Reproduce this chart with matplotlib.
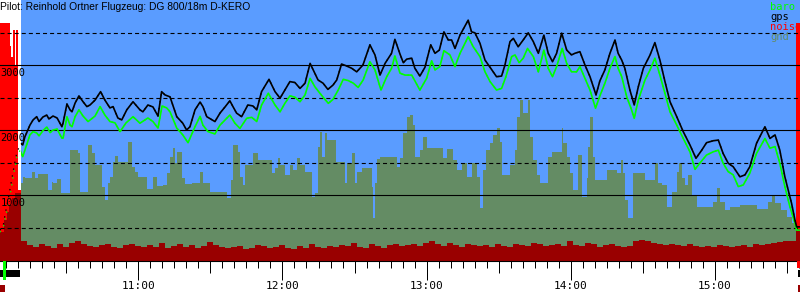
import matplotlib as mpl
import matplotlib.pyplot as plt
import matplotlib.transforms as mtransforms
from matplotlib.patches import Rectangle
from matplotlib.ticker import MultipleLocator, FuncFormatter, NullLocator
import numpy as np

mpl.rcParams['lines.scale_dashes'] = False

# time in minutes after 10:00, altitudes in m
t_start, t_end = 2.44, 335.4
t_release = 11.05

gps_t = [2.4, 3.7, 4.5, 5.8, 7.0, 8.3, 9.5, 11.1, 11.9, 12.8,
         14.9, 16.2, 17.7, 18.7, 20.3, 21.9, 22.8, 24.5, 26.2, 28.2,
         28.7, 30.3, 31.6, 32.4, 33.7, 35.3, 37.0, 38.6, 39.9, 42.0,
         44.3, 46.1, 48.2, 49.5, 51.5, 53.1, 55.2, 57.8, 60.7, 61.9,
         64.0, 66.1, 68.2, 69.7, 71.1, 73.2, 76.0, 78.5, 80.1, 81.5,
         83.6, 85.7, 86.9, 88.5, 91.9, 94.0, 96.1, 98.1, 99.4, 100.9,
         103.0, 105.6, 107.7, 109.3, 111.3, 114.4, 116.9, 119.0, 121.0, 123.1,
         125.2, 127.3, 129.4, 131.5, 133.5, 134.8, 136.9, 138.9, 141.0, 142.6,
         144.6, 146.7, 148.8, 150.9, 153.5, 156.4, 158.5, 160.6, 162.7, 165.4,
         166.8, 168.9, 170.3, 171.7, 173.8, 175.1, 177.2, 179.3, 181.7, 183.5,
         185.3, 187.2, 189.0, 190.4, 191.8, 193.9, 197.3, 198.7, 200.1, 202.2,
         204.3, 206.4, 209.1, 211.2, 212.6, 214.7, 216.1, 218.1, 220.2, 222.3,
         224.4, 226.5, 228.8, 230.6, 232.4, 234.1, 236.2, 238.3, 240.3, 241.7,
         243.8, 245.9, 248.0, 250.5, 252.1, 254.2, 256.3, 258.4, 259.7, 261.2,
         262.5, 264.6, 266.4, 268.1, 270.2, 273.0, 275.0, 277.1, 279.2, 281.3,
         284.1, 286.8, 289.6, 292.1, 294.5, 296.5, 299.3, 301.4, 303.4, 305.5,
         307.6, 310.4, 312.5, 314.5, 317.3, 320.8, 322.9, 325.0, 327.0, 329.1,
         330.5, 331.9, 333.3, 334.0, 335.4]
gps_alt = [460, 510, 690, 925, 1170, 1445, 1660, 1795, 1770, 1895,
           2075, 2155, 2205, 2130, 2200, 2230, 2170, 2215, 2185, 2050,
           2110, 2400, 2310, 2280, 2415, 2525, 2435, 2360, 2385, 2460,
           2590, 2460, 2340, 2360, 2185, 2155, 2310, 2435, 2310, 2280,
           2385, 2355, 2215, 2590, 2540, 2510, 2205, 2105, 2000, 2050,
           2310, 2430, 2360, 2205, 2130, 2260, 2355, 2450, 2360, 2260,
           2205, 2385, 2370, 2310, 2590, 2780, 2590, 2490, 2615, 2745,
           2730, 2640, 2720, 3025, 2870, 2770, 2720, 2625, 2690, 2770,
           3015, 2985, 2950, 2895, 3000, 3310, 3155, 2845, 3025, 3180,
           3395, 3170, 3035, 3090, 3105, 2950, 2830, 2965, 3310, 3180,
           3230, 3510, 3385, 3385, 3255, 3460, 3690, 3510, 3495, 3335,
           3075, 2965, 2820, 2830, 3000, 3360, 3410, 3280, 3385, 3495,
           3360, 3180, 3460, 3180, 3050, 3180, 3490, 3230, 3155, 3180,
           3205, 3000, 2820, 2540, 2755, 2925, 3180, 3385, 3180, 3075,
           2950, 2615, 2385, 2665, 2950, 3155, 3345, 3075, 2745, 2435,
           2205, 1975, 1770, 1565, 1690, 1805, 1835, 1845, 1640, 1490,
           1435, 1280, 1310, 1435, 1795, 2050, 1870, 1925, 1690, 1280,
           1075, 870, 615, 510, 510]

baro_t = [2.4, 3.7, 4.5, 5.8, 7.0, 8.3, 9.5, 10.8, 11.9, 12.8,
          14.9, 16.2, 17.7, 18.7, 20.3, 21.9, 23.3, 24.5, 26.2, 28.2,
          28.7, 30.3, 31.6, 32.4, 33.7, 35.3, 37.0, 39.1, 42.0, 44.1,
          46.1, 48.2, 50.3, 52.4, 54.9, 57.8, 60.7, 64.0, 66.1, 68.2,
          69.9, 71.8, 73.2, 76.0, 78.5, 80.7, 83.6, 85.7, 86.9, 89.0,
          91.9, 94.0, 96.1, 98.1, 100.2, 102.3, 105.1, 107.2, 109.3, 111.3,
          114.1, 116.9, 119.0, 121.0, 123.1, 125.2, 127.3, 129.4, 131.5, 133.5,
          135.6, 137.7, 139.1, 141.0, 143.2, 145.3, 147.4, 149.5, 151.5, 153.6,
          156.4, 158.5, 161.0, 163.4, 165.4, 166.8, 168.9, 171.0, 173.8, 177.2,
          180.0, 182.1, 183.5, 185.5, 187.2, 189.7, 191.8, 193.9, 197.3, 199.4,
          202.2, 204.3, 206.4, 209.1, 211.2, 213.0, 215.4, 216.8, 218.5, 220.2,
          222.0, 224.4, 226.5, 228.8, 230.6, 232.4, 234.1, 236.4, 238.3, 240.3,
          242.4, 243.8, 245.9, 248.0, 250.3, 252.1, 254.2, 256.3, 258.4, 259.7,
          261.2, 263.3, 265.3, 266.4, 268.1, 270.9, 273.0, 275.0, 277.1, 279.2,
          281.3, 284.1, 286.8, 289.6, 291.7, 293.7, 296.5, 299.3, 301.4, 303.4,
          305.5, 307.6, 309.7, 311.8, 314.5, 317.3, 320.8, 322.9, 325.0, 327.0,
          329.1, 331.2, 333.3, 334.0, 335.4]
baro_alt = [430, 490, 615, 830, 1075, 1355, 1585, 1690, 1590, 1690,
            1925, 1975, 1955, 1910, 1990, 2045, 1960, 2000, 2015, 1875,
            1875, 2205, 2075, 2050, 2205, 2310, 2215, 2130, 2215, 2360,
            2230, 2130, 2110, 1975, 2110, 2205, 2105, 2185, 2130, 2030,
            2370, 2340, 2280, 2030, 1925, 1805, 2050, 2210, 2075, 1975,
            1940, 2075, 2155, 2230, 2105, 2025, 2180, 2195, 2130, 2385,
            2565, 2385, 2280, 2410, 2525, 2505, 2435, 2540, 2795, 2665,
            2565, 2470, 2410, 2470, 2615, 2780, 2760, 2720, 2655, 2770,
            3050, 2925, 2615, 2820, 2950, 3140, 2875, 2845, 2845, 2615,
            2795, 3065, 2925, 2975, 3220, 3155, 2975, 3180, 3435, 3280,
            3130, 2895, 2745, 2615, 2640, 2820, 3130, 3155, 3035, 3105,
            3255, 3130, 2895, 3230, 2950, 2820, 2975, 3255, 3025, 2895,
            2895, 2975, 2795, 2615, 2335, 2525, 2720, 2950, 3130, 2950,
            2820, 2510, 2310, 2180, 2460, 2770, 2925, 3105, 2845, 2565,
            2280, 2075, 1870, 1665, 1395, 1490, 1615, 1665, 1690, 1490,
            1360, 1310, 1130, 1155, 1335, 1640, 1870, 1720, 1745, 1490,
            1130, 820, 565, 460, 460]

gnd_t = [2.4, 4.1, 5.2, 6.3, 7.3, 8.7, 11.0, 12.1, 12.8, 15.6,
         17.0, 18.4, 22.5, 23.9, 24.6, 26.0, 27.8, 31.6, 35.0, 35.7,
         39.2, 40.6, 42.0, 44.8, 46.1, 47.5, 48.2, 49.6, 50.3, 51.7,
         55.8, 57.2, 58.6, 60.0, 63.5, 66.2, 67.7, 70.4, 71.8, 73.2,
         74.6, 75.3, 76.0, 78.1, 79.4, 82.2, 85.7, 86.8, 89.8, 96.8,
         98.6, 99.5, 101.6, 102.3, 103.7, 104.4, 107.9, 109.9, 115.5, 116.9,
         118.3, 119.0, 121.0, 123.1, 124.5, 125.9, 127.3, 129.4, 132.2, 133.5,
         134.9, 135.6, 136.3, 137.7, 138.4, 142.3, 146.0, 146.7, 148.8, 150.2,
         150.9, 153.0, 157.1, 157.8, 158.5, 159.2, 160.6, 167.5, 168.9, 170.3,
         171.7, 173.1, 174.2, 175.1, 177.2, 178.6, 180.0, 186.9, 188.3, 191.1,
         192.5, 194.6, 196.7, 198.7, 200.8, 202.2, 203.3, 204.7, 206.3, 207.7,
         209.1, 210.5, 211.2, 214.7, 216.8, 217.7, 218.8, 220.0, 222.3, 223.0,
         224.4, 225.8, 227.2, 230.6, 232.0, 236.2, 236.9, 238.3, 239.6, 241.0,
         243.1, 244.5, 246.6, 247.3, 248.0, 249.1, 250.1, 254.9, 259.1, 260.7,
         261.8, 262.5, 263.9, 266.0, 270.9, 275.0, 276.4, 277.8, 279.9, 282.0,
         284.1, 285.1, 286.1, 287.5, 288.9, 290.3, 292.4, 299.3, 300.7, 302.1,
         304.1, 306.2, 310.4, 317.3, 322.2, 323.6, 325.0, 327.7, 329.8, 331.9,
         333.3]
gnd_alt = [430, 615, 740, 845, 955, 1030, 1185, 1275, 1260, 1355,
           1260, 1325, 1075, 1200, 1185, 1245, 1030, 1690, 1645, 1045,
           1770, 1645, 1460, 1125, 925, 1185, 1275, 1510, 1600, 1510,
           1815, 1430, 1355, 1275, 1090, 1275, 1140, 1155, 1340, 1585,
           1725, 1490, 1660, 1260, 1170, 1185, 1355, 1185, 1045, 955,
           1230, 1770, 1660, 1275, 1155, 1460, 1645, 1540, 1340, 1415,
           1570, 1460, 1310, 1460, 1385, 1570, 1460, 1355, 970, 1030,
           1740, 1970, 1585, 1955, 1845, 1510, 1185, 1490, 1645, 1185,
           1355, 1415, 1125, 645, 1185, 1555, 1585, 1430, 1570, 1955,
           2200, 2230, 2075, 1585, 1690, 1890, 1725, 1570, 1710, 1540,
           1385, 1490, 1275, 1490, 1275, 800, 1385, 1690, 1800, 1925,
           2030, 1815, 1310, 1460, 1690, 2200, 2460, 2260, 2460, 1890,
           1540, 1310, 1185, 1585, 1660, 2030, 1800, 1585, 1340, 1075,
           1615, 970, 1260, 1740, 2200, 1585, 1230, 1385, 1340, 1540,
           1340, 925, 645, 1340, 1230, 1490, 1185, 1155, 815, 1045,
           1355, 1490, 1260, 1155, 1310, 1000, 815, 890, 1110, 890,
           770, 815, 845, 785, 890, 1000, 875, 770, 660, 570,
           475]

# engine noise during self launch, then flight noise every 2.5 min, engine at landing
noise_launch_t = [2.44, 6.6, 7.2, 7.9, 8.7, 9.3, 10.1]
noise_launch = [3640, 3300, 3130, 3540, 3000, 3540, 1080]
noise_flight_t0, noise_step = 11.0, 2.5
noise_flight = [290, 230, 200, 250, 215, 190, 240, 205, 260,
                300, 240, 210, 195, 235, 250, 200, 185, 225, 245, 210, 195,
                230, 205, 255, 190, 215, 240, 200, 230, 185, 220,
                270, 235, 205, 180, 195, 215, 175, 190, 230, 210,
                185, 200, 225, 180, 170, 210, 190, 240, 200, 185, 215, 195,
                230, 215, 260, 205, 190, 240, 210, 185, 225, 250, 215, 230,
                245, 220, 265, 300, 240, 210, 255, 230, 200, 250, 225, 215,
                235, 205, 250, 215, 195, 240, 225, 210, 265, 240, 215, 230,
                250, 220, 290, 235, 215, 255, 240, 205, 230, 250,
                220, 200, 215, 285, 310, 290, 265, 240, 225, 250,
                235, 215, 250, 220, 200, 215, 195, 225, 210, 200,
                215, 230, 205, 250, 225, 240, 260, 280, 300, 290]
noise_landing_t = [333.8]
noise_landing = [3640]

# markers below the time axis (start, end in minutes)
takeoff_mark = (3.8, 4.8)
engine_bars = [(2.44, 10.8), (334.6, 335.4)]
log_marks = [(2.44, 4.5), (334.6, 335.4)]
engine_end_mark = (334.1, 335.4)

blue = '#5a9cff'
gnd_col = '#648c64'
dark_red = '#990000'
y_floor = -15

noise_t = (noise_launch_t
           + list(noise_flight_t0 + noise_step * np.arange(len(noise_flight)))
           + noise_landing_t + [t_end])
noise_v = noise_launch + noise_flight + noise_landing + noise_landing[-1:]
gnd_tt = gnd_t + [t_end]
gnd_vv = gnd_alt + gnd_alt[-1:]

fig = plt.figure(figsize=(8, 3), dpi=100)
ax = fig.add_axes([0, 39 / 300, 1, 261 / 300])
ax.set_xlim(t_start, t_end)
ax.set_ylim(y_floor, 4000)
ax.set_facecolor('white')
ax.axvspan(t_release, t_end, color=blue, lw=0, zorder=0)

ax.fill_between(noise_t, y_floor, noise_v, step='post', color='#ff0000', lw=0, zorder=1)
gfill = ax.fill_between(gnd_tt, y_floor, gnd_vv, step='post', color=gnd_col, lw=0, zorder=2)
dfill = ax.fill_between(noise_t, y_floor, noise_v, step='post', color=dark_red, lw=0, zorder=2.5)
dfill.set_clip_path(gfill.get_paths()[0], ax.transData)

for v in (1000, 2000, 3000):
  ax.axhline(v, color='k', lw=0.8, zorder=3)
for v in (500, 1500, 2500, 3500):
  ax.axhline(v, color='k', lw=0.8, dashes=(2.9, 2.2), zorder=3)

# solid during the flight, dotted through the engine noise of the launch
flight_clip = Rectangle((t_release, y_floor), t_end - t_release, 5000, transform=ax.transData)
for tt, vv, col, z in ((baro_t, baro_alt, '#00ff00', 4), (gps_t, gps_alt, 'k', 4.5)):
  ln, = ax.plot(tt, vv, color=col, lw=1.2, zorder=z)
  ln.set_clip_path(flight_clip)
  ax.plot(tt, vv, color=col, lw=0.9, ls=(0, (1, 4)), zorder=z)

for v in (1000, 2000, 3000):
  ax.annotate(str(v), xy=(0, v), xycoords=ax.get_yaxis_transform(),
              xytext=(0.3, -2.0), textcoords='offset points', va='top', ha='left',
              family='DejaVu Sans Mono', fontsize=7.5, zorder=6)

for sp in ('top', 'left', 'right'):
  ax.spines[sp].set_visible(False)
ax.spines['bottom'].set_linewidth(0.8)
ax.set_yticks([])
ax.xaxis.set_major_locator(MultipleLocator(60))
ax.xaxis.set_minor_locator(MultipleLocator(5))
ax.xaxis.set_major_formatter(FuncFormatter(lambda v, p: "%d:%02d" % (10 + int(v // 60), int(v % 60))))
ax.tick_params(axis='x', which='major', length=19 * 0.72, width=0.72, pad=0.5)
ax.tick_params(axis='x', which='minor', length=7 * 0.72, width=0.72)
for lab in ax.get_xticklabels():
  lab.set_family('DejaVu Sans Mono')
  lab.set_fontsize(8)

sec = ax.secondary_xaxis('bottom')
sec.xaxis.set_major_locator(MultipleLocator(60, offset=30))
sec.xaxis.set_minor_locator(NullLocator())
sec.tick_params(axis='x', length=12 * 0.72, width=0.72, labelbottom=False)
sec.spines['bottom'].set_visible(False)

trans = mtransforms.blended_transform_factory(ax.transData, fig.transFigure)
def strip(t0, t1, y0, y1, col, z=5):
  ax.add_patch(Rectangle((t0, 1 - y1 / 300), t1 - t0, (y1 - y0) / 300, transform=trans,
                         color=col, lw=0, clip_on=False, zorder=z))

for t0, t1 in engine_bars:
  strip(t0, t1, 270, 277, 'k')
for t0, t1 in log_marks:
  strip(t0, t1, 285, 292, dark_red)
strip(engine_end_mark[0], engine_end_mark[1], 261, 268, '#ff0000')
strip(takeoff_mark[0], takeoff_mark[1], 261, 280, '#00ff00', z=6)

fig.text(0.0, 1 - 6.5 / 300, "Pilot: Reinhold Ortner Flugzeug: DG 800/18m D-KERO",
         family='Liberation Sans', fontsize=7.4, va='center', ha='left')
for i, (name, col) in enumerate([('baro', '#00ff00'), ('gps', 'k'), ('noise', '#ff0000'), ('gnd', gnd_col)]):
  fig.text(770 / 800, 1 - (7.5 + 10 * i) / 300, name, color=col,
           family='DejaVu Sans Mono', fontsize=7.5, va='center', ha='left')

plt.savefig('out.png', dpi=100)
